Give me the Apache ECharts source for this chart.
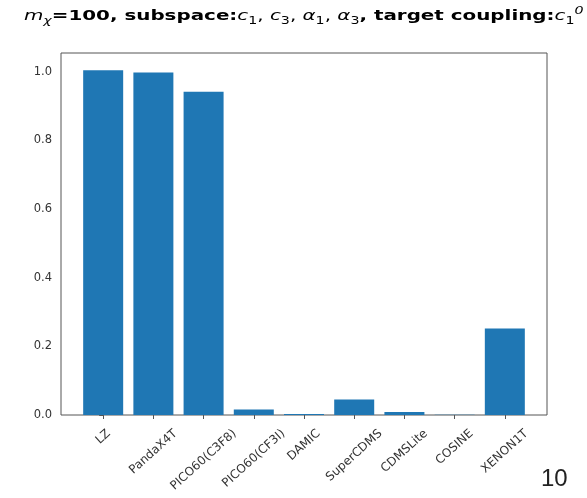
<!DOCTYPE html>
<html>
<head>
<meta charset="utf-8">
<script src="https://cdn.jsdelivr.net/npm/echarts@6/dist/echarts.min.js"></script>
<style>
  html, body { margin: 0; padding: 0; background: #fff; }
  #chart { width: 587px; height: 498px; }
</style>
</head>
<body>
<div id="chart"></div>
<script>
// Experiments and their values for the target coupling
const categories = ['LZ', 'PandaX4T', 'PICO60(C3F8)', 'PICO60(CF3I)', 'DAMIC',
                    'SuperCDMS', 'CDMSLite', 'COSINE', 'XENON1T'];
const values = [1.005, 0.998, 0.942, 0.016, 0.003, 0.045, 0.009, 0.0005, 0.252];
const yTicks = [0, 0.2, 0.4, 0.6, 0.8, 1.0];
const pageNumber = '10';

const positions = categories.map((_, i) => i);
const barData = positions.map((p, i) => [p, values[i]]);
const labelData = positions.map(p => [p, 0]);

// Tick-label styling: rotated names centred under their tick
const labelFont = 12;
const labelFamily = '"DejaVu Sans"';
const labelAngle = 42 * Math.PI / 180;
const labelPad = 12;
const ctx = document.createElement('canvas').getContext('2d');
ctx.font = labelFont + 'px ' + labelFamily;

function renderTickLabel(params, api) {
  const i = api.value(0);
  const name = categories[i];
  const p = api.coord([i, 0]);
  const L = ctx.measureText(name).width;
  const h = labelFont * 1.1;
  // height of the rotated box; its centre sits straight below the tick
  const H = L * Math.sin(labelAngle) + h * Math.cos(labelAngle);
  return {
    type: 'text',
    x: p[0],
    y: p[1] + labelPad + H / 2,
    rotation: labelAngle,
    silent: true,
    style: {
      text: name,
      font: labelFont + 'px ' + labelFamily,
      fill: '#333',
      align: 'center',
      verticalAlign: 'middle'
    }
  };
}

const chart = echarts.init(document.getElementById('chart'), null, { renderer: 'canvas' });

const titleFont = 14;
const ink = '#111';
const titleRich = {
  b:    { fontSize: titleFont, fontWeight: 'bold', fontFamily: '"DejaVu Sans"', color: ink, lineHeight: 20 },
  mi:   { fontSize: titleFont, fontStyle: 'italic', fontFamily: '"DejaVu Sans"', color: ink, lineHeight: 20 },
  m:    { fontSize: titleFont, fontFamily: '"DejaVu Sans"', color: ink, lineHeight: 20 },
  sub:  { fontSize: 10, fontFamily: '"DejaVu Sans"', color: ink, lineHeight: 11, verticalAlign: 'bottom' },
  subi: { fontSize: 10, fontStyle: 'italic', fontFamily: '"DejaVu Sans"', color: ink, lineHeight: 11, verticalAlign: 'bottom' },
  sup:  { fontSize: 10, fontStyle: 'italic', fontFamily: '"DejaVu Sans"', color: ink, lineHeight: 11, verticalAlign: 'top' }
};
const titleText =
  '{mi|m}{subi|χ}{b|=100, subspace:}{mi|c}{sub|1}{m|, }{mi|c}{sub|3}{m|, }' +
  '{mi|α}{sub|1}{m|, }{mi|α}{sub|3}{b|, target coupling:}{mi|c}{sub|1}{sup|0}';

chart.setOption({
  animation: false,
  backgroundColor: '#fff',
  grid: {
    left: 61, right: 40, top: 53, bottom: 83,
    show: true, borderColor: '#555', borderWidth: 1, backgroundColor: 'transparent'
  },
  xAxis: {
    type: 'value',
    min: -0.84, max: 8.84,
    axisLine: { show: false },
    splitLine: { show: false },
    axisTick: {
      show: true, length: 4, inside: false,
      customValues: positions,
      lineStyle: { color: '#555', width: 1 }
    },
    axisLabel: { show: false }
  },
  yAxis: {
    type: 'value',
    min: 0, max: 1.055,
    axisLine: { show: false },
    splitLine: { show: false },
    axisTick: {
      show: true, length: 4, inside: false,
      customValues: yTicks,
      lineStyle: { color: '#555', width: 1 }
    },
    axisLabel: {
      customValues: yTicks,
      showMaxLabel: true,
      margin: 9,
      fontSize: 11.5,
      fontFamily: '"DejaVu Sans"',
      color: '#333',
      formatter: v => v.toFixed(1)
    }
  },
  series: [
    {
      type: 'bar',
      data: barData,
      barWidth: 40,
      itemStyle: { color: '#1f77b4' }
    },
    {
      type: 'custom',
      data: labelData,
      clip: false,
      silent: true,
      renderItem: renderTickLabel
    }
  ],
  graphic: [
    {
      type: 'text',
      x: 24, y: 16,
      scaleX: 1.42,
      style: {
        text: titleText,
        rich: titleRich,
        align: 'left',
        verticalAlign: 'middle'
      }
    },
    {
      type: 'text',
      x: 541, y: 479,
      style: {
        text: pageNumber,
        font: '24px "Liberation Sans"',
        fill: '#222',
        align: 'left',
        verticalAlign: 'middle'
      }
    }
  ]
});
</script>
</body>
</html>
